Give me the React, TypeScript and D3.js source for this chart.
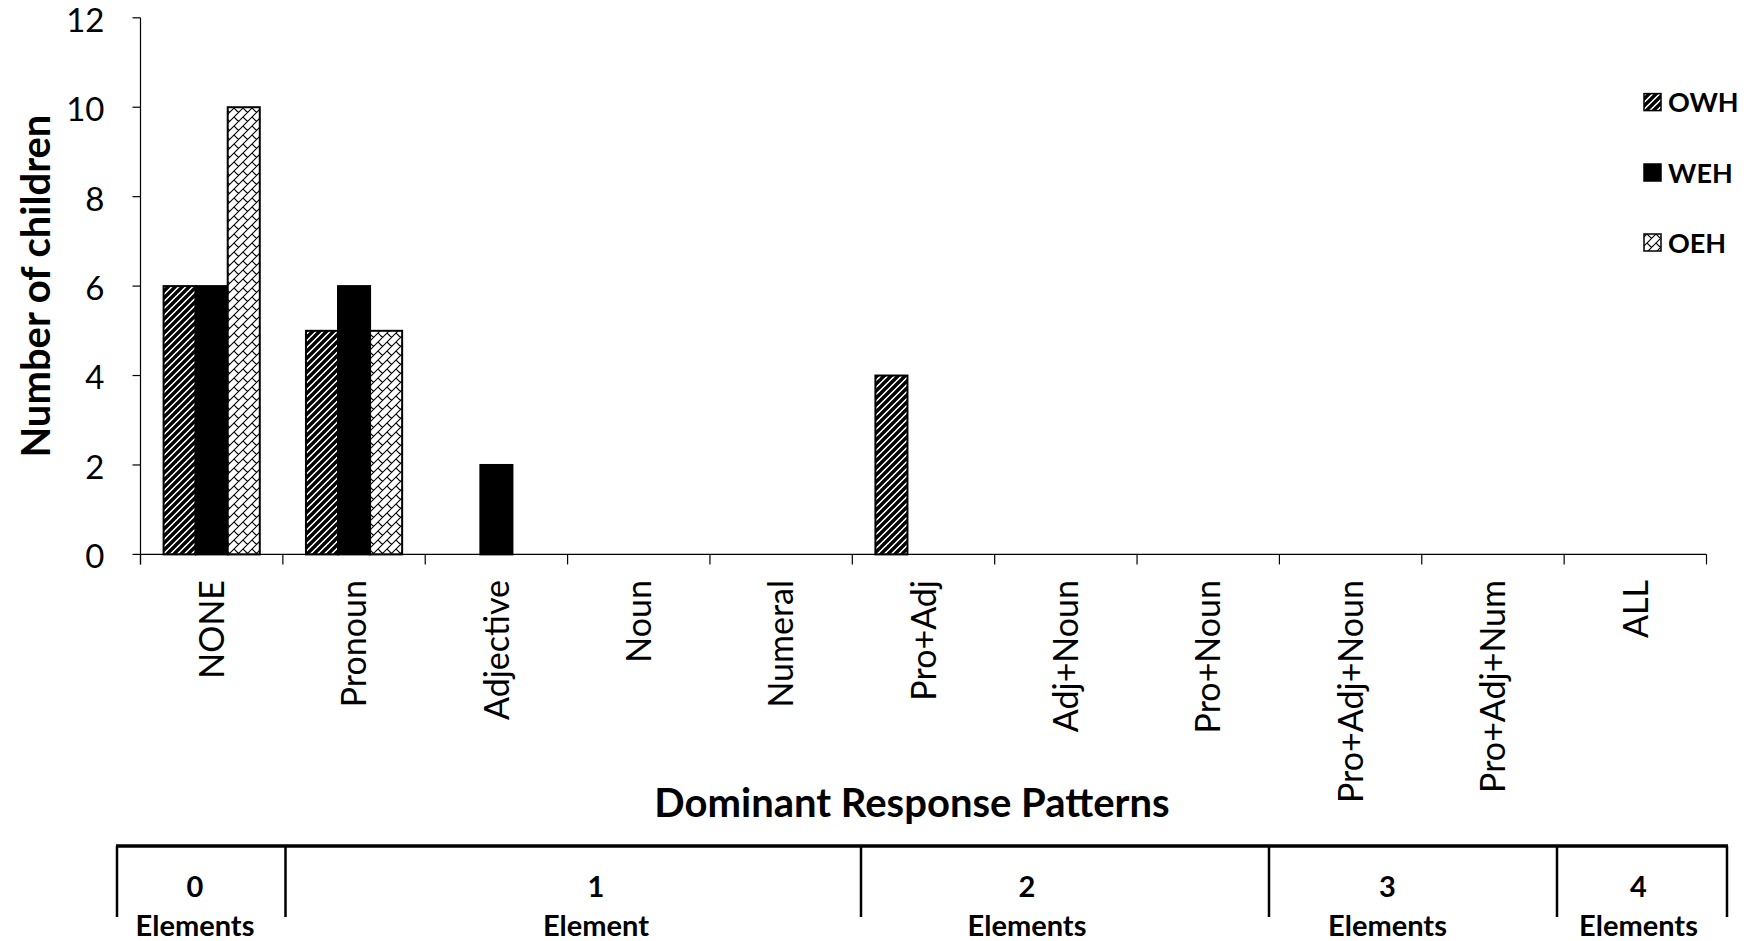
import React, { useEffect, useRef } from "react";
import * as d3 from "d3";

const categories = ["NONE", "Pronoun", "Adjective", "Noun", "Numeral", "Pro+Adj", "Adj+Noun", "Pro+Noun", "Pro+Adj+Noun", "Pro+Adj+Num", "ALL"];
const seriesNames = ["OWH", "WEH", "OEH"];
const owh = [6, 5, 0, 0, 0, 4, 0, 0, 0, 0, 0];
const weh = [6, 6, 2, 0, 0, 0, 0, 0, 0, 0, 0];
const oeh = [10, 5, 0, 0, 0, 0, 0, 0, 0, 0, 0];
const yTicks = [0, 2, 4, 6, 8, 10, 12];
const groupNums = ["0", "1", "2", "3", "4"];
const groupWords = ["Elements", "Element", "Elements", "Elements", "Elements"];

const W = 1749;
const H = 941;
const FONT = "Lato, 'Open Sans', sans-serif";

export default function App() {
  const ref = useRef<SVGSVGElement>(null);

  useEffect(() => {
    const svg = d3.select(ref.current);
    svg.selectAll("*").remove();

    const defs = svg.append("defs");
    const p1 = defs.append("pattern").attr("id", "pOWH").attr("patternUnits", "userSpaceOnUse")
      .attr("width", 7).attr("height", 7);
    p1.append("rect").attr("width", 7).attr("height", 7).attr("fill", "#fff");
    p1.append("path").attr("d", "M-1,1 L1,-1 M0,7 L7,0 M6,8 L8,6").attr("stroke", "#000").attr("stroke-width", 3.4);

    const p3 = defs.append("pattern").attr("id", "pOEH").attr("patternUnits", "userSpaceOnUse")
      .attr("width", 9).attr("height", 9);
    p3.append("rect").attr("width", 9).attr("height", 9).attr("fill", "#fff");
    p3.append("path").attr("d", "M0,9 L9,0 M0,0 L4.5,4.5 M-1,1 L1,-1 M8,10 L10,8").attr("stroke", "#000").attr("stroke-width", 1.1).attr("fill", "none");

    const fills = ["url(#pOWH)", "#000", "url(#pOEH)"];
    const data = [owh, weh, oeh];

    const x0 = 140.5, x1 = 1706.5;
    const yTop = 17.8, yBot = 554.4;

    const x = d3.scaleBand<string>().domain(categories).range([x0, x1]).paddingInner(0).paddingOuter(0);
    const xs = d3.scaleBand<string>().domain(seriesNames).range([0, x.bandwidth()]).paddingInner(0).paddingOuter(0.72);
    const y = d3.scaleLinear().domain([0, 12]).range([yBot, yTop]);

    const g = svg.append("g");

    // bars
    seriesNames.forEach((s, si) => {
      categories.forEach((c, ci) => {
        const v = data[si][ci];
        if (v <= 0) return;
        g.append("rect")
          .attr("x", (x(c) as number) + (xs(s) as number))
          .attr("y", y(v))
          .attr("width", xs.bandwidth())
          .attr("height", y(0) - y(v))
          .attr("fill", fills[si])
          .attr("stroke", "#000")
          .attr("stroke-width", 2);
      });
    });

    // y axis
    g.append("line").attr("x1", x0).attr("x2", x0).attr("y1", yTop).attr("y2", yBot + 10)
      .attr("stroke", "#000").attr("stroke-width", 1.2);
    yTicks.forEach((t) => {
      g.append("line").attr("x1", x0 - 8).attr("x2", x0).attr("y1", y(t)).attr("y2", y(t))
        .attr("stroke", "#000").attr("stroke-width", 1.2);
      g.append("text").attr("x", x0 - 36).attr("y", y(t)).attr("dy", "0.42em")
        .attr("text-anchor", "end").attr("font-family", FONT).attr("font-size", 33)
        .attr("fill", "#000").text(String(t));
    });

    // x axis
    g.append("line").attr("x1", x0).attr("x2", x1).attr("y1", yBot).attr("y2", yBot)
      .attr("stroke", "#000").attr("stroke-width", 1.2);
    const bounds = categories.map((c) => x(c) as number).concat([x1]);
    bounds.forEach((b) => {
      g.append("line").attr("x1", b).attr("x2", b).attr("y1", yBot).attr("y2", yBot + 10)
        .attr("stroke", "#000").attr("stroke-width", 1.2);
    });
    categories.forEach((c) => {
      const cx = (x(c) as number) + x.bandwidth() / 2;
      g.append("text")
        .attr("transform", `translate(${cx},580) rotate(-90)`)
        .attr("dy", "0.36em")
        .attr("text-anchor", "end")
        .attr("font-family", FONT).attr("font-size", 34).attr("fill", "#000")
        .text(c);
    });

    // axis titles
    g.append("text").attr("transform", `translate(36,${(yTop + yBot) / 2 + 0}) rotate(-90)`)
      .attr("dy", "0.36em").attr("text-anchor", "middle")
      .attr("font-family", FONT).attr("font-weight", "bold").attr("font-size", 40).attr("fill", "#000")
      .text("Number of children");
    g.append("text").attr("x", 912).attr("y", 817).attr("text-anchor", "middle")
      .attr("font-family", FONT).attr("font-weight", "bold").attr("font-size", 40).attr("fill", "#000")
      .text("Dominant Response Patterns");

    // legend
    const legY = [102.6, 173, 243];
    seriesNames.forEach((s, i) => {
      g.append("rect").attr("x", 1644).attr("y", legY[i] - 9).attr("width", 17).attr("height", 17)
        .attr("fill", fills[i]).attr("stroke", "#000").attr("stroke-width", 1.5);
      g.append("text").attr("x", 1668).attr("y", legY[i]).attr("dy", "0.36em")
        .attr("font-family", FONT).attr("font-weight", "bold").attr("font-size", 27).attr("fill", "#000")
        .text(s);
    });

    // bottom bracket
    const dividers = [117, 285.5, 861, 1269, 1557, 1727];
    const textX = [195, 596, 1027, 1387.5, 1638.5];
    g.append("line").attr("x1", dividers[0] - 1).attr("x2", dividers[5] + 1).attr("y1", 846).attr("y2", 846)
      .attr("stroke", "#000").attr("stroke-width", 3.5);
    dividers.forEach((d) => {
      g.append("line").attr("x1", d).attr("x2", d).attr("y1", 846).attr("y2", 917)
        .attr("stroke", "#000").attr("stroke-width", 2.5);
    });
    groupNums.forEach((n, i) => {
      g.append("text").attr("x", textX[i]).attr("y", 897).attr("text-anchor", "middle")
        .attr("font-family", FONT).attr("font-weight", "bold").attr("font-size", 29).attr("fill", "#000")
        .text(n);
      g.append("text").attr("x", textX[i]).attr("y", 936).attr("text-anchor", "middle")
        .attr("font-family", FONT).attr("font-weight", "bold").attr("font-size", 29).attr("fill", "#000")
        .text(groupWords[i]);
    });
  }, []);

  return (
    <svg ref={ref} width={W} height={H} viewBox={`0 0 ${W} ${H}`}
      style={{ position: "absolute", left: 0, top: 0, background: "#fff", display: "block" }} />
  );
}
